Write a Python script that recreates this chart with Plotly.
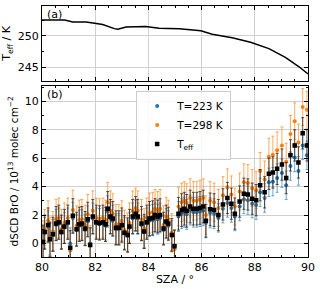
import plotly.graph_objects as go

# ---- top panel: effective temperature ----
teff_sza = [80.0, 80.85, 81.16, 81.66, 82.04, 82.28, 82.72, 82.85, 83.16, 83.9, 84.4,
            85.16, 85.97, 86.4, 87.15, 87.84, 88.53, 89.15, 89.65, 90.0]
teff_val = [252.5, 252.5, 252.2, 252.2, 251.98, 251.8, 251.15, 251.05, 251.4, 251.5, 251.2,
            251.15, 250.8, 250.26, 249.7, 249.0, 248.0, 246.6, 245.16, 244.0]

# ---- bottom panel: dSCD BrO ----
sza = [80.04, 80.10, 80.23, 80.30, 80.41, 80.53, 80.63, 80.73, 80.84, 80.97,
       81.06, 81.16, 81.30, 81.40, 81.50, 81.62, 81.72, 81.81, 81.91, 82.04,
       82.16, 82.29, 82.39, 82.47, 82.57, 82.66, 82.78, 82.89, 83.00, 83.10,
       83.22, 83.29, 83.41, 83.52, 83.60, 83.74, 83.84, 83.94, 84.04, 84.16,
       84.25, 84.35, 84.44, 84.57, 84.67, 84.75, 84.88, 84.98, 85.13, 85.25,
       85.35, 85.44, 85.57, 85.69, 85.82, 85.94, 86.06, 86.16, 86.32, 86.47,
       86.63, 86.80, 86.97, 87.12, 87.25, 87.43, 87.59, 87.74, 87.90, 88.05,
       88.20, 88.37, 88.53, 88.68, 88.84, 89.02, 89.18, 89.34, 89.50, 89.64,
       89.80, 89.96]

d_teff = [0.1, 0.8, 1.3, 0.3, 0.65, 1.4, 1.5, 0.8, 1.2, 1.5,
          -0.3, 1.95, 1.0, 1.35, 1.4, 1.05, 1.7, -0.1, 1.9, 1.5,
          1.45, 1.5, 1.35, 2.45, 1.9, 1.75, 1.1, 1.1, 1.3, 0.75,
          0.6, 1.2, 1.9, 2.1, 1.9, 1.4, 0.85, 1.5, 1.75, 1.8,
          2.0, 1.9, 2.0, 1.05, 1.55, 1.4, 0.6, -0.2, 2.1, 2.35,
          2.45, 2.3, 2.6, 2.45, 2.45, 2.5, 2.6, 1.6, 2.4, 2.35,
          2.0, 2.75, 3.2, 2.8, 2.1, 2.95, 3.5, 3.45, 3.15, 3.05,
          4.1, 3.6, 4.9, 5.0, 5.25, 5.55, 4.6, 6.2, 6.9, 5.7,
          7.75, 6.9]

d_298 = [0.2, 1.0, 1.6, 0.45, 0.85, 1.7, 1.8, 1.0, 1.45, 1.8,
         -0.5, 2.35, 1.25, 1.65, 1.7, 1.3, 2.05, -0.15, 2.3, 1.8,
         1.75, 1.8, 1.65, 2.9, 2.3, 2.1, 1.35, 1.35, 1.6, 0.95,
         0.75, 1.45, 2.3, 2.5, 2.3, 1.7, 1.05, 1.8, 2.15, 2.2,
         2.45, 2.3, 2.45, 1.3, 1.9, 1.7, 0.75, -0.4, 2.6, 2.9,
         3.0, 2.85, 3.2, 3.0, 3.0, 3.1, 3.2, 2.0, 3.0, 2.9,
         2.5, 3.4, 3.95, 3.45, 2.6, 3.65, 4.3, 4.25, 3.9, 3.75,
         5.1, 4.5, 6.1, 6.25, 6.55, 6.9, 5.75, 7.7, 8.6, 7.1,
         9.6, 9.4]

d_223 = [0.1, 0.75, 1.2, 0.3, 0.6, 1.3, 1.4, 0.75, 1.1, 1.4,
         0.0, 1.8, 0.95, 1.25, 1.3, 0.95, 1.55, 0.0, 1.75, 1.4,
         1.35, 1.4, 1.25, 2.25, 1.75, 1.6, 1.0, 1.0, 1.2, 0.7,
         0.55, 1.1, 1.75, 1.95, 1.75, 1.3, 0.8, 1.4, 1.6, 1.65,
         1.8, 1.7, 1.8, 0.95, 1.4, 1.25, 0.55, -0.15, 1.9, 2.1,
         2.2, 2.05, 2.35, 2.2, 2.2, 2.25, 2.3, 1.45, 2.15, 2.1,
         1.8, 2.45, 2.85, 2.5, 1.9, 2.6, 3.1, 3.05, 2.8, 2.7,
         3.6, 3.2, 4.3, 4.35, 4.6, 4.95, 4.1, 5.45, 6.05, 5.1,
         6.9, 6.2]

e_teff = [1.2, 1.2, 1.2, 1.2, 1.2, 1.2, 1.2, 1.2, 1.2, 1.2,
          1.2, 1.2, 1.2, 1.2, 1.2, 1.2, 1.2, 1.2, 1.2, 1.2,
          1.2, 1.2, 1.2, 1.2, 1.2, 1.2, 1.2, 1.2, 1.2, 1.2,
          1.2, 1.2, 1.2, 1.2, 1.2, 1.2, 1.2, 1.2, 1.2, 1.2,
          1.15, 1.15, 1.15, 1.15, 1.15, 1.15, 1.15, 1.15, 1.15, 1.15,
          1.15, 1.15, 1.15, 1.15, 1.15, 1.15, 1.15, 1.15, 1.15, 1.15,
          1.1, 1.1, 1.1, 1.1, 1.1, 1.1, 1.1, 1.1, 1.1, 1.1,
          1.1, 1.1, 1.1, 1.1, 1.1, 1.1, 1.1, 1.1, 1.1, 1.1,
          1.1, 1.1]

e_298 = [1.4, 1.4, 1.4, 1.4, 1.4, 1.4, 1.4, 1.4, 1.4, 1.4,
         1.4, 1.4, 1.4, 1.4, 1.4, 1.4, 1.4, 1.4, 1.4, 1.4,
         1.4, 1.4, 1.4, 1.4, 1.4, 1.4, 1.4, 1.4, 1.4, 1.4,
         1.4, 1.4, 1.4, 1.4, 1.4, 1.4, 1.4, 1.4, 1.4, 1.4,
         1.35, 1.35, 1.35, 1.35, 1.35, 1.35, 1.35, 1.35, 1.35, 1.35,
         1.35, 1.35, 1.35, 1.35, 1.35, 1.35, 1.35, 1.35, 1.35, 1.35,
         1.3, 1.3, 1.3, 1.3, 1.3, 1.3, 1.3, 1.3, 1.3, 1.3,
         1.3, 1.3, 1.3, 1.3, 1.3, 1.3, 1.3, 1.3, 1.3, 1.3,
         1.3, 1.3]

e_223 = [1.1, 1.1, 1.1, 1.1, 1.1, 1.1, 1.1, 1.1, 1.1, 1.1,
         1.1, 1.1, 1.1, 1.1, 1.1, 1.1, 1.1, 1.1, 1.1, 1.1,
         1.1, 1.1, 1.1, 1.1, 1.1, 1.1, 1.1, 1.1, 1.1, 1.1,
         1.1, 1.1, 1.1, 1.1, 1.1, 1.1, 1.1, 1.1, 1.1, 1.1,
         1.05, 1.05, 1.05, 1.05, 1.05, 1.05, 1.05, 1.05, 1.05, 1.05,
         1.05, 1.05, 1.05, 1.05, 1.05, 1.05, 1.05, 1.05, 1.05, 1.05,
         1.0, 1.0, 1.0, 1.0, 1.0, 1.0, 1.0, 1.0, 1.0, 1.0,
         1.0, 1.0, 1.0, 1.0, 1.0, 1.0, 1.0, 1.0, 1.0, 1.0,
         1.0, 1.0]

x_ticks = [80, 82, 84, 86, 88, 90]

BLUE = "#1f77b4"
ORANGE = "#ff7f0e"
FONT = "DejaVu Sans"

fig = go.Figure()

fig.add_trace(go.Scatter(x=teff_sza, y=teff_val, mode="lines", line=dict(color="black", width=1.5),
                         xaxis="x", yaxis="y", showlegend=False))

fig.add_trace(go.Scatter(x=sza, y=d_223, mode="markers", name="T=223 K",
                         marker=dict(color=BLUE, size=4, symbol="circle"),
                         error_y=dict(type="data", array=e_223, color="rgba(31,119,180,0.65)", thickness=1, width=1.5),
                         xaxis="x2", yaxis="y2"))
fig.add_trace(go.Scatter(x=sza, y=d_298, mode="markers", name="T=298 K",
                         marker=dict(color=ORANGE, size=4, symbol="circle"),
                         error_y=dict(type="data", array=e_298, color="rgba(255,127,14,0.65)", thickness=1, width=1.5),
                         xaxis="x2", yaxis="y2"))
fig.add_trace(go.Scatter(x=sza, y=d_teff, mode="markers", name="T<sub>eff</sub>",
                         marker=dict(color="black", size=4.5, symbol="square"),
                         error_y=dict(type="data", array=e_teff, color="rgba(40,30,20,0.75)", thickness=1, width=1.5),
                         xaxis="x2", yaxis="y2"))

axis_common = dict(showline=True, linecolor="black", linewidth=1, mirror="allticks",
                   ticks="inside", ticklen=4, tickcolor="black", showgrid=True,
                   gridcolor="#d0d0d0", gridwidth=1, zeroline=False,
                   tickfont=dict(family=FONT, size=11, color="black"))

fig.update_layout(
    width=320, height=289,
    margin=dict(l=42, r=10, t=5, b=32),
    paper_bgcolor="white", plot_bgcolor="white",
    font=dict(family=FONT, size=11, color="black"),
    xaxis=dict(**axis_common, domain=[0, 1], range=[80, 90], anchor="y", tickvals=x_ticks,
               showticklabels=False, minor=dict(ticks="inside", dtick=0.5, ticklen=2, tickcolor="black")),
    yaxis=dict(**axis_common, domain=[0.7024, 1], range=[242.92, 254.73], anchor="x",
               tickvals=[245, 250], minor=dict(ticks="inside", dtick=2.5, ticklen=2, tickcolor="black"),
               title=dict(text="T<sub>eff</sub> / K", font=dict(family=FONT, size=11), standoff=4)),
    xaxis2=dict(**axis_common, domain=[0, 1], range=[80, 90], anchor="y2", tickvals=x_ticks,
                minor=dict(ticks="inside", dtick=0.5, ticklen=2, tickcolor="black"),
                title=dict(text="SZA / °", font=dict(family=FONT, size=11), standoff=2)),
    yaxis2=dict(**axis_common, domain=[0, 0.6825], range=[-0.95, 11.1], anchor="x2",
                tickvals=[0, 2, 4, 6, 8, 10], minor=dict(ticks="inside", dtick=1, ticklen=2, tickcolor="black"),
                title=dict(text="dSCD BrO / 10<sup>13</sup> molec cm<sup>−2</sup>", font=dict(family=FONT, size=10.5), standoff=4)),
    legend=dict(x=0.354, y=0.663, xanchor="left", yanchor="top",
                bgcolor="rgba(255,255,255,0.85)", bordercolor="#cccccc", borderwidth=1,
                font=dict(family=FONT, size=10.5), tracegroupgap=0, itemwidth=30),
    annotations=[
        dict(text="(a)", xref="x domain", yref="y domain", x=0.01, y=1.0, xanchor="left", yanchor="top",
             showarrow=False, font=dict(family=FONT, size=11)),
        dict(text="(b)", xref="x2 domain", yref="y2 domain", x=0.01, y=1.0, xanchor="left", yanchor="top",
             showarrow=False, font=dict(family=FONT, size=11)),
    ],
)

fig.write_html("out.html", config={"displayModeBar": False},
               post_script="document.body.style.margin='0';document.body.style.overflow='hidden';")
